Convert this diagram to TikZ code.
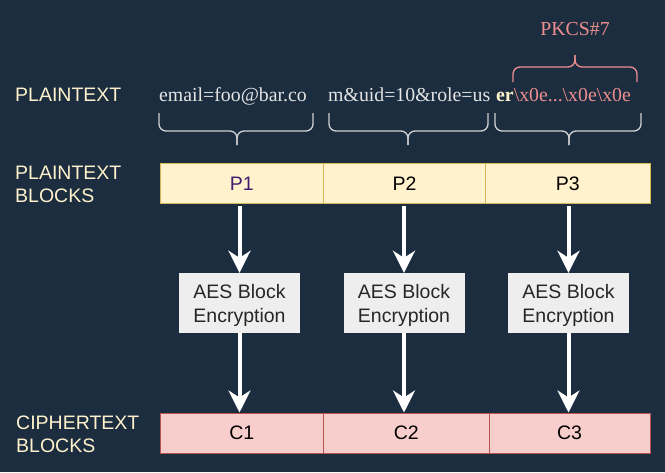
\documentclass[tikz,border=0pt]{standalone}
\usepackage{fontspec}
\setmainfont{Liberation Serif}
\newfontfamily\arialf{Liberation Sans}
\usetikzlibrary{arrows.meta}
\definecolor{bgc}{HTML}{1B2D3F}
\definecolor{cream}{HTML}{FFF2CC}
\definecolor{pborder}{HTML}{D6B656}
\definecolor{cfill}{HTML}{F8CECC}
\definecolor{cborder}{HTML}{B85450}
\definecolor{aesfill}{HTML}{EEEEEE}
\definecolor{lighttext}{HTML}{E4E4E4}
\definecolor{bracec}{HTML}{D0D0D0}
\definecolor{pinkc}{HTML}{EE8E8E}
\definecolor{purp}{HTML}{3C1F6E}
\tikzset{
  lbl/.style={anchor=base west, inner sep=0pt, text=cream, font=\arialf\fontsize{19.5}{23}\selectfont, align=left},
  pblk/.style={draw=pborder, fill=cream, line width=1pt, minimum height=40pt, inner sep=0pt, font=\arialf\fontsize{19.5}{23}\selectfont, text=black},
  cblk/.style={draw=cborder, fill=cfill, line width=1pt, minimum height=40pt, inner sep=0pt, font=\arialf\fontsize{19.5}{23}\selectfont, text=black},
  aes/.style={fill=aesfill, minimum width=121pt, minimum height=60pt, inner sep=0pt},
  aestxt/.style={align=center, inner sep=0pt, font=\arialf\fontsize{19.5}{24}\selectfont, text=black!85},
  ptxt/.style={anchor=base west, inner sep=0pt, font=\fontsize{19.8}{24}\selectfont, text=lighttext},
  brace/.style={draw=bracec, line width=1.3pt, rounded corners=7pt},
  pbrace/.style={draw=pinkc, line width=1.3pt, rounded corners=7pt},
  arr/.style={draw=white, line width=4pt, -{Stealth[length=22pt,width=22pt,inset=7pt]}},
}
\begin{document}
\begin{tikzpicture}[x=1pt,y=-1pt]
\useasboundingbox[fill=bgc] (0,0) rectangle (665,472);
% labels
\node[lbl] (lp) at (15,101) {PLAINTEXT};
\node[lbl, anchor=north west] (lpb) at (15,166) {PLAINTEXT\\BLOCKS};
\node[lbl, anchor=north west] (lcb) at (16,416) {CIPHERTEXT\\BLOCKS};
% plaintext text
\node[ptxt] (t1) at (159,101) {email=foo@bar.co};
\node[ptxt] (t2) at (328,101) {m\&uid=10\&role=us};
\node[ptxt] (t3) at (496,101) {{\color{cream}\bfseries er}{\color{pinkc}\textbackslash x0e...\textbackslash x0e\textbackslash x0e}};
\node[anchor=base, inner sep=0pt, font=\fontsize{19.8}{24}\selectfont, text=pinkc] (pk) at (575,35) {PKCS\#7};
% braces (lower)
\coordinate (b1l) at (159,113); \coordinate (b1r) at (313,113); \coordinate (b1t) at (237,145);
\draw[brace] (b1l) -- (159,131) -- (237,131) -- (b1t);
\draw[brace] (b1r) -- (313,131) -- (237,131) -- (b1t);
\coordinate (b2l) at (329,113); \coordinate (b2r) at (488,113); \coordinate (b2t) at (408,145);
\draw[brace] (b2l) -- (329,131) -- (408,131) -- (b2t);
\draw[brace] (b2r) -- (488,131) -- (408,131) -- (b2t);
\coordinate (b3l) at (495,113); \coordinate (b3r) at (641,113); \coordinate (b3t) at (569,145);
\draw[brace] (b3l) -- (495,131) -- (569,131) -- (b3t);
\draw[brace] (b3r) -- (641,131) -- (569,131) -- (b3t);
% pink brace (upper)
\coordinate (pbl) at (513,82); \coordinate (pbr) at (637,82); \coordinate (pbt) at (575,55);
\draw[pbrace] (pbl) -- (513,67) -- (575,67) -- (pbt);
\draw[pbrace] (pbr) -- (637,67) -- (575,67) -- (pbt);
% plaintext blocks
\node[pblk, minimum width=163.6pt, text=purp] (P1) at (241.8,183.5) {P1};
\node[pblk, minimum width=162pt] (P2) at (404.6,183.5) {P2};
\node[pblk, minimum width=164.4pt] (P3) at (567.8,183.5) {P3};
% AES boxes
\node[aes] (A1) at (239.5,303) {};
\node[aes] (A2) at (404,303) {};
\node[aes] (A3) at (568.5,303) {};
\node[aestxt] (A1t) at ([yshift=-2.5pt]A1.center) {AES Block\\Encryption};
\node[aestxt] (A2t) at ([yshift=-2.5pt]A2.center) {AES Block\\Encryption};
\node[aestxt] (A3t) at ([yshift=-2.5pt]A3.center) {AES Block\\Encryption};
% ciphertext blocks
\node[cblk, minimum width=163.6pt] (C1) at (241.8,433) {C1};
\node[cblk, minimum width=165.4pt] (C2) at (406.3,433) {C2};
\node[cblk, minimum width=161pt] (C3) at (569.5,433) {C3};
% arrows
\draw[arr] ([yshift=-2pt]A1.north |- P1.south) -- (A1.north);
\draw[arr] ([yshift=-2pt]A2.north |- P2.south) -- (A2.north);
\draw[arr] ([yshift=-2pt]A3.north |- P3.south) -- (A3.north);
\draw[arr] (A1.south) -- (A1.south |- C1.north);
\draw[arr] (A2.south) -- (A2.south |- C2.north);
\draw[arr] (A3.south) -- (A3.south |- C3.north);
\end{tikzpicture}
\end{document}
